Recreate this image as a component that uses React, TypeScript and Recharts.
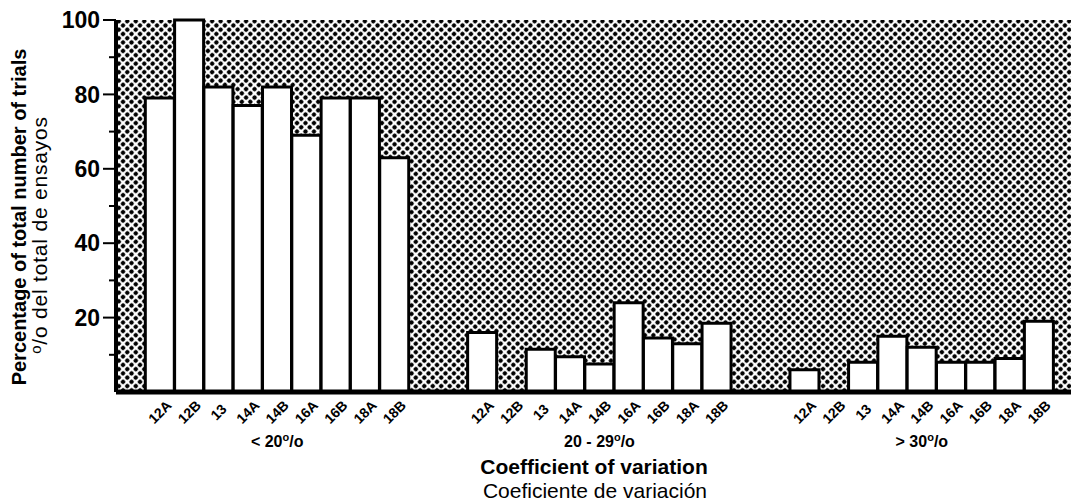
import React from "react"
import { BarChart, Bar, XAxis, YAxis, CartesianGrid } from "recharts"

// hybrids, in the order they sit in each group
const varieties = ["12A", "12B", "13", "14A", "14B", "16A", "16B", "18A", "18B"]
// coefficient-of-variation classes (the "o/o" is drawn after them)
const cvClasses = ["< 20", "20 - 29", "> 30"]

// percentage of trials per class
const under20 = [79, 100, 82, 77, 82, 69, 79, 79, 63]
const from20to29 = [16, 0, 11.5, 9.5, 7.5, 24, 14.5, 13, 18.5]
const over30 = [6, 0, 8, 15, 12, 8, 8, 9, 19]

const yTicks = [0, 10, 20, 30, 40, 50, 60, 70, 80, 90, 100]

type Row = { key: string; variety: string; cls: number; value: number | null }

// one empty slot at each end, two between groups
const rows: Row[] = []
let gapCount = 0
const addGap = () => rows.push({ key: `gap${gapCount++}`, variety: "", cls: -1, value: null })
addGap()
;[under20, from20to29, over30].forEach((vals, c) => {
  if (c > 0) {
    addGap()
    addGap()
  }
  vals.forEach((v, i) => rows.push({ key: `${c}-${varieties[i]}`, variety: varieties[i], cls: c, value: v }))
})
addGap()

const FONT = '"Liberation Sans", Arial, sans-serif'

const YTick = (props: any) => {
  const { x, y, payload } = props
  const v = payload.value
  if (v === 0) return null
  const major = v % 20 === 0
  return (
    <g>
      <line x1={x - (major ? 13 : 7)} x2={x} y1={y} y2={y} stroke="#000" strokeWidth={2} />
      {major && (
        <text x={x - 16} y={y} dy="0.36em" textAnchor="end" fontSize={23} fontWeight={700} fill="#000" fontFamily={FONT}>
          {v}
        </text>
      )}
    </g>
  )
}

const XTick = (props: any) => {
  const { x, y, payload } = props
  const row = rows.find((r) => r.key === payload.value)
  if (!row || !row.variety) return null
  const ty = y + 20
  return (
    <g fontFamily={FONT} fill="#000">
      <text x={x} y={ty} dy="0.35em" textAnchor="middle" transform={`rotate(-45 ${x} ${ty})`} fontSize={14} fontWeight={700}>
        {row.variety}
      </text>
      {row.variety === "14B" && (
        <text x={x} y={447} textAnchor="middle" fontSize={16} fontWeight={700}>
          <tspan>{cvClasses[row.cls]}</tspan>
          <tspan dy={-6} fontSize={11}>o</tspan>
          <tspan dy={6}>/o</tspan>
        </text>
      )}
    </g>
  )
}

const YTitle = () => (
  <g fontFamily={FONT} fill="#000">
    <text x={26} y={217} transform="rotate(-90 26 217)" textAnchor="middle" fontSize={20} fontWeight={700}>
      Percentage of total number of trials
    </text>
    <text x={47} y={235} transform="rotate(-90 47 235)" textAnchor="middle" fontSize={21} letterSpacing={0.8}>
      <tspan dy={-6} fontSize={15}>o</tspan>
      <tspan dy={6}>/o del total de ensayos</tspan>
    </text>
  </g>
)

const XTitle = () => (
  <g fontFamily={FONT} fill="#000">
    <text x={594} y={474} textAnchor="middle" fontSize={21} fontWeight={700}>
      Coefficient of variation
    </text>
    <text x={595} y={498} textAnchor="middle" fontSize={21}>
      Coeficiente de variación
    </text>
  </g>
)

export default function App() {
  return (
    <div style={{ position: "fixed", left: 0, top: 0, width: 1071, height: 504, overflow: "hidden", background: "#fff" }}>
      <BarChart
        width={1090}
        height={504}
        data={rows}
        margin={{ top: 20, right: 7, bottom: 0, left: 0 }}
        barCategoryGap={0}
        style={{ fontFamily: FONT }}
      >
        <defs>
          <pattern id="halftone" width={6} height={6} patternUnits="userSpaceOnUse" patternTransform="rotate(45)">
            <rect width={6} height={6} fill="#fff" />
            <circle cx={3} cy={3} r={2.2} fill="#000" />
          </pattern>
        </defs>
        <CartesianGrid horizontal={false} vertical={false} fill="url(#halftone)" fillOpacity={1} />
        <XAxis
          dataKey="key"
          interval={0}
          height={112}
          tickLine={false}
          tickSize={0}
          tickMargin={0}
          axisLine={{ stroke: "#000", strokeWidth: 5 }}
          tick={<XTick />}
          label={{ content: () => <XTitle /> }}
        />
        <YAxis
          width={116}
          domain={[0, 100]}
          ticks={yTicks}
          interval={0}
          tickLine={false}
          tickSize={0}
          tickMargin={0}
          axisLine={{ stroke: "#000", strokeWidth: 4 }}
          tick={<YTick />}
          label={{ content: () => <YTitle /> }}
        />
        <Bar dataKey="value" fill="#fff" stroke="#000" strokeWidth={3} isAnimationActive={false} />
      </BarChart>
    </div>
  )
}
